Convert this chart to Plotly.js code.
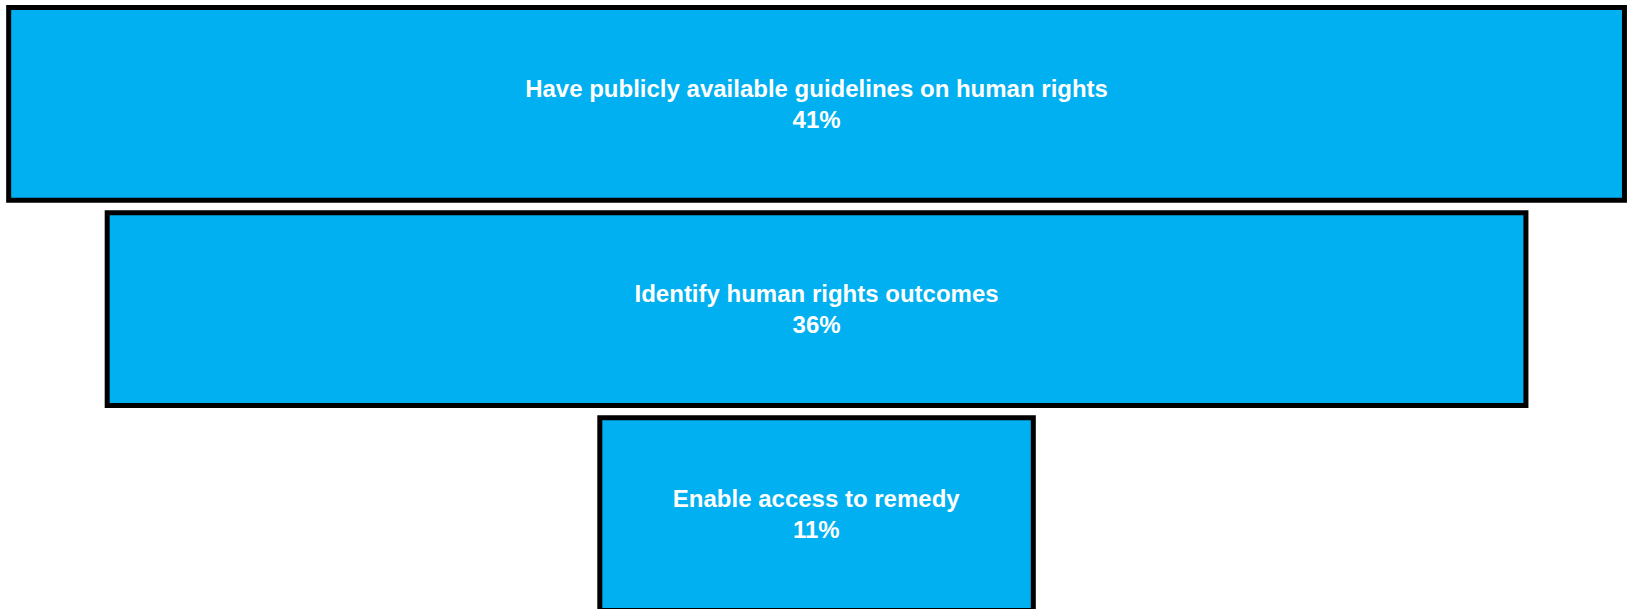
<!DOCTYPE html>
<html>
<head>
<meta charset="utf-8">
<script src="https://cdn.plot.ly/plotly-3.0.1.min.js"></script>
<style>html,body{margin:0;padding:0;background:#fff;}#chart{width:1628px;height:609px;}</style>
</head>
<body>
<div id="chart"></div>
<script>
var stages = ["Have publicly available guidelines on human rights", "Identify human rights outcomes", "Enable access to remedy"];
var shares = [41, 36, 11];

var trace = {
  type: 'funnel',
  y: stages,
  x: shares,
  texttemplate: '<b>%{y}</b><br><b>%{x}%</b>',
  textposition: 'inside',
  insidetextanchor: 'middle',
  textfont: {family: 'Liberation Sans, Arial, sans-serif', size: 24, color: '#ffffff'},
  constraintext: 'none',
  marker: {color: '#00b0f0', line: {color: '#000000', width: 5}},
  connector: {visible: false},
  hoverinfo: 'none'
};

var layout = {
  width: 1628, height: 609,
  margin: {l: 0, r: 0, t: 0, b: 0, pad: 0},
  paper_bgcolor: '#ffffff', plot_bgcolor: '#ffffff',
  showlegend: false,
  funnelgap: 0.06,
  xaxis: {visible: false, range: [-20.72, 20.59]},
  yaxis: {visible: false, range: [2.463, -0.507], showgrid: false, zeroline: false}
};

Plotly.newPlot('chart', [trace], layout, {staticPlot: true, displayModeBar: false});
</script>
</body>
</html>
